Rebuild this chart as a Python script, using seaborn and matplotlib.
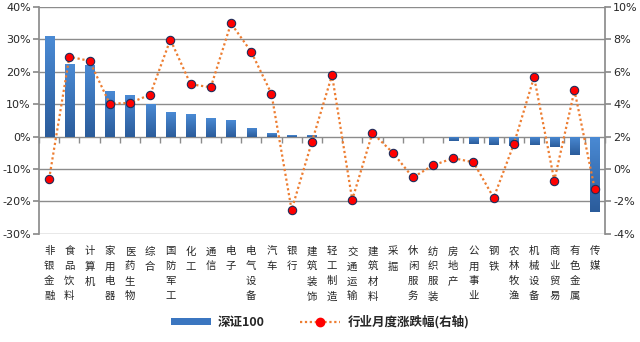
import numpy as np
import pandas as pd
import matplotlib
matplotlib.use("Agg")
import matplotlib.pyplot as plt
import seaborn as sns
from matplotlib.patches import Patch
from matplotlib.lines import Line2D

categories = ["非银金融", "食品饮料", "计算机", "家用电器", "医药生物", "综合", "国防军工",
              "化工", "通信", "电子", "电气设备", "汽车", "银行", "建筑装饰", "轻工制造",
              "交通运输", "建筑材料", "采掘", "休闲服务", "纺织服装", "房地产", "公用事业",
              "钢铁", "农林牧渔", "机械设备", "商业贸易", "有色金属", "传媒"]
szse100 = [30.9, 22.5, 22.2, 14.1, 12.8, 10.0, 7.5, 6.9, 5.6, 5.0, 2.8, 1.0, 0.4, 0.4,
           0.0, 0.0, 0.0, 0.0, 0.0, 0.0, -1.5, -2.2, -2.5, -2.8, -2.7, -3.1, -5.7, -23.3]
industry_monthly = [-0.60, 6.92, 6.67, 4.02, 4.08, 4.58, 7.98, 5.23, 5.04, 8.98, 7.23, 4.65,
                    -2.52, 1.66, 5.79, -1.90, 2.23, 1.02, -0.52, 0.23, 0.67, 0.42, -1.77,
                    1.54, 5.67, -0.71, 4.85, -1.21]
left_ticks = [-30, -20, -10, 0, 10, 20, 30, 40]
right_ticks = [-4, -2, 0, 2, 4, 6, 8, 10]
bar_label = "深证100"
line_label = "行业月度涨跌幅(右轴)"

sns.set_theme(style="white")
plt.rcParams['font.family'] = ['Noto Sans CJK SC', 'DejaVu Sans']
plt.rcParams['axes.unicode_minus'] = False

fig = plt.figure(figsize=(6.4, 3.42), dpi=100)
ax = fig.add_axes([0.061, 0.316, 0.884, 0.664])

df = pd.DataFrame({"cat": categories, "val": szse100})
sns.barplot(data=df, x="cat", y="val", ax=ax, color="#3b76c0", width=0.45,
            saturation=1, edgecolor="none", zorder=3)

# gradient fill for bars
grad = np.linspace(0, 1, 64).reshape(-1, 1)
cmap = matplotlib.colors.LinearSegmentedColormap.from_list("g", ["#4a8ad4", "#2b5c9b"])
for p in list(ax.patches):
    x0, y0 = p.get_x(), p.get_y()
    w, h = p.get_width(), p.get_height()
    if abs(h) < 1e-9:
        continue
    lo, hi = min(y0, y0 + h), max(y0, y0 + h)
    im = ax.imshow(grad, origin="upper", cmap=cmap, aspect="auto", zorder=3.5)
    im.set_extent([x0, x0 + w, lo, hi])
    im.set_clip_path(p)

ax.set_xlim(-0.5, len(categories) - 0.5)
ax.set_ylim(-30, 40)
ax.set_yticks(left_ticks)
ax.set_yticklabels([f"{v}%" for v in left_ticks], fontsize=8, family="DejaVu Sans")
ax.yaxis.grid(True, color="#8c8c8c", linewidth=1)
ax.set_axisbelow(True)
ax.set_xlabel("")
ax.set_ylabel("")
ax.set_xticks(range(len(categories)))
ax.set_xticklabels(["\n".join(c) for c in categories], fontsize=7.5,
                   linespacing=1.62, va="top")
ax.tick_params(axis="x", length=0, pad=9)
ax.tick_params(axis="y", length=4, direction="out", color="#8c8c8c", pad=2, left=True)
for s in ["top", "bottom"]:
    ax.spines[s].set_visible(False)
ax.spines["left"].set_color("#8c8c8c")
ax.spines["right"].set_visible(False)

# category tick marks along the zero line
sec = ax.secondary_xaxis(3 / 7)
sec.set_xticks(np.arange(len(categories) + 1) - 0.5)
sec.set_xticklabels([])
sec.tick_params(axis="x", length=4, direction="out", color="#8c8c8c", width=1)
sec.spines["bottom"].set_visible(False)

ax2 = ax.twinx()
sns.lineplot(x=np.arange(len(categories)), y=industry_monthly, ax=ax2, color="#ed7d31",
             linestyle=(0, (1, 1.2)), linewidth=1.6, marker="o", markersize=6,
             markerfacecolor="#ff0000", markeredgecolor="#1f2d5a", markeredgewidth=0.8,
             zorder=5)
ax2.set_ylim(-4, 10)
ax2.set_yticks(right_ticks)
ax2.set_yticklabels([f"{v}%" for v in right_ticks], fontsize=8, family="DejaVu Sans")
ax2.tick_params(axis="y", length=4, direction="out", color="#8c8c8c", pad=2, right=True)
for s in ["top", "bottom", "left"]:
    ax2.spines[s].set_visible(False)
ax2.spines["right"].set_color("#8c8c8c")
ax2.set_ylabel("")

handles = [Patch(facecolor="#3b76c0", edgecolor="none"),
           Line2D([0], [0], color="#ed7d31", linestyle=(0, (1, 1.2)), linewidth=1.6,
                  marker="o", markersize=6, markerfacecolor="#ff0000",
                  markeredgecolor="#ff0000")]
leg = fig.legend(handles, [bar_label, line_label], loc="center", ncol=2,
                 bbox_to_anchor=(0.5, 0.058), frameon=False,
                 prop={"family": "Noto Sans CJK SC", "size": 9, "weight": "bold"},
                 handlelength=3.2, handleheight=0.4, handletextpad=0.6, columnspacing=2.8)

fig.savefig("out.png", dpi=100)
